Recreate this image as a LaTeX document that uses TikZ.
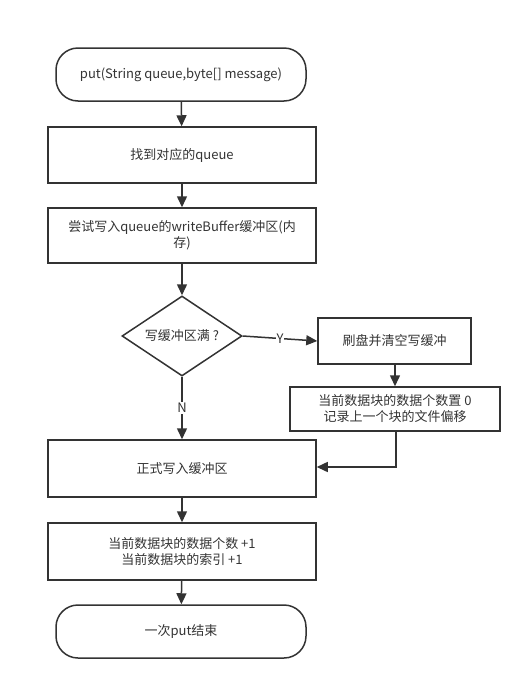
\documentclass[tikz,border=0pt]{standalone}
\usepackage{fontspec}
\setmainfont{Noto Sans CJK SC}
\usetikzlibrary{shapes.geometric,arrows.meta}
\definecolor{ln}{HTML}{333333}
\definecolor{tx}{HTML}{333333}
\begin{document}
\begin{tikzpicture}[x=1pt,y=-1pt,
  every node/.style={font=\fontsize{13}{16}\selectfont,text=tx},
  box/.style={draw=ln,line width=1.5pt,rectangle,minimum width=268pt,minimum height=56pt,align=center,inner sep=0pt},
  term/.style={draw=ln,line width=1.5pt,rectangle,rounded corners=22pt,minimum width=250pt,minimum height=53pt,align=center},
  dec/.style={draw=ln,line width=1.5pt,diamond,minimum width=120pt,minimum height=80pt,inner sep=0pt,aspect=1.5},
  arr/.style={draw=ln,line width=1.5pt,-{Triangle[length=11pt,width=10pt]}},
  lbl/.style={fill=white,inner sep=1pt}]
\useasboundingbox (0,0) rectangle (532,691);
\node[term] (start) at (181,74.5) {put(String queue,byte[] message)};
\node[box] (find) at (182,155) {找到对应的queue};
\node[box,minimum height=55pt] (try) at (182,235.5) {尝试写入queue的writeBuffer缓冲区(内\\存)};
\node[dec] (full) at (182,336) {写缓冲区满 ?};
\node[box,minimum width=153pt,minimum height=46pt] (flush) at (394.5,341) {刷盘并清空写缓冲};
\node[box,minimum width=210pt,minimum height=44pt] (reset) at (395,409) {当前数据块的数据个数置 0\\记录上一个块的文件偏移};
\node[box,minimum height=57pt] (write) at (182,468.5) {正式写入缓冲区};
\node[box,minimum height=57pt] (count) at (182,551.5) {当前数据块的数据个数 +1\\当前数据块的索引 +1};
\node[term] (end) at (181,631.5) {一次put结束};
\coordinate (c1) at (396,467);
\draw[arr] (start) -- (find);
\draw[arr] (find) -- (try);
\draw[arr] (try) -- (full);
\draw[arr] (full.east) -- node[lbl]{Y} (flush.west);
\draw[arr] (full.south) -- node[lbl,pos=0.5]{N} (write.north);
\draw[arr] (flush.south -| reset.north) -- (reset.north);
\draw[arr] (reset.south -| c1) -- (c1) -- (write.east |- c1);
\draw[arr] (write) -- (count);
\draw[arr] (count) -- (end);
\end{tikzpicture}
\end{document}
